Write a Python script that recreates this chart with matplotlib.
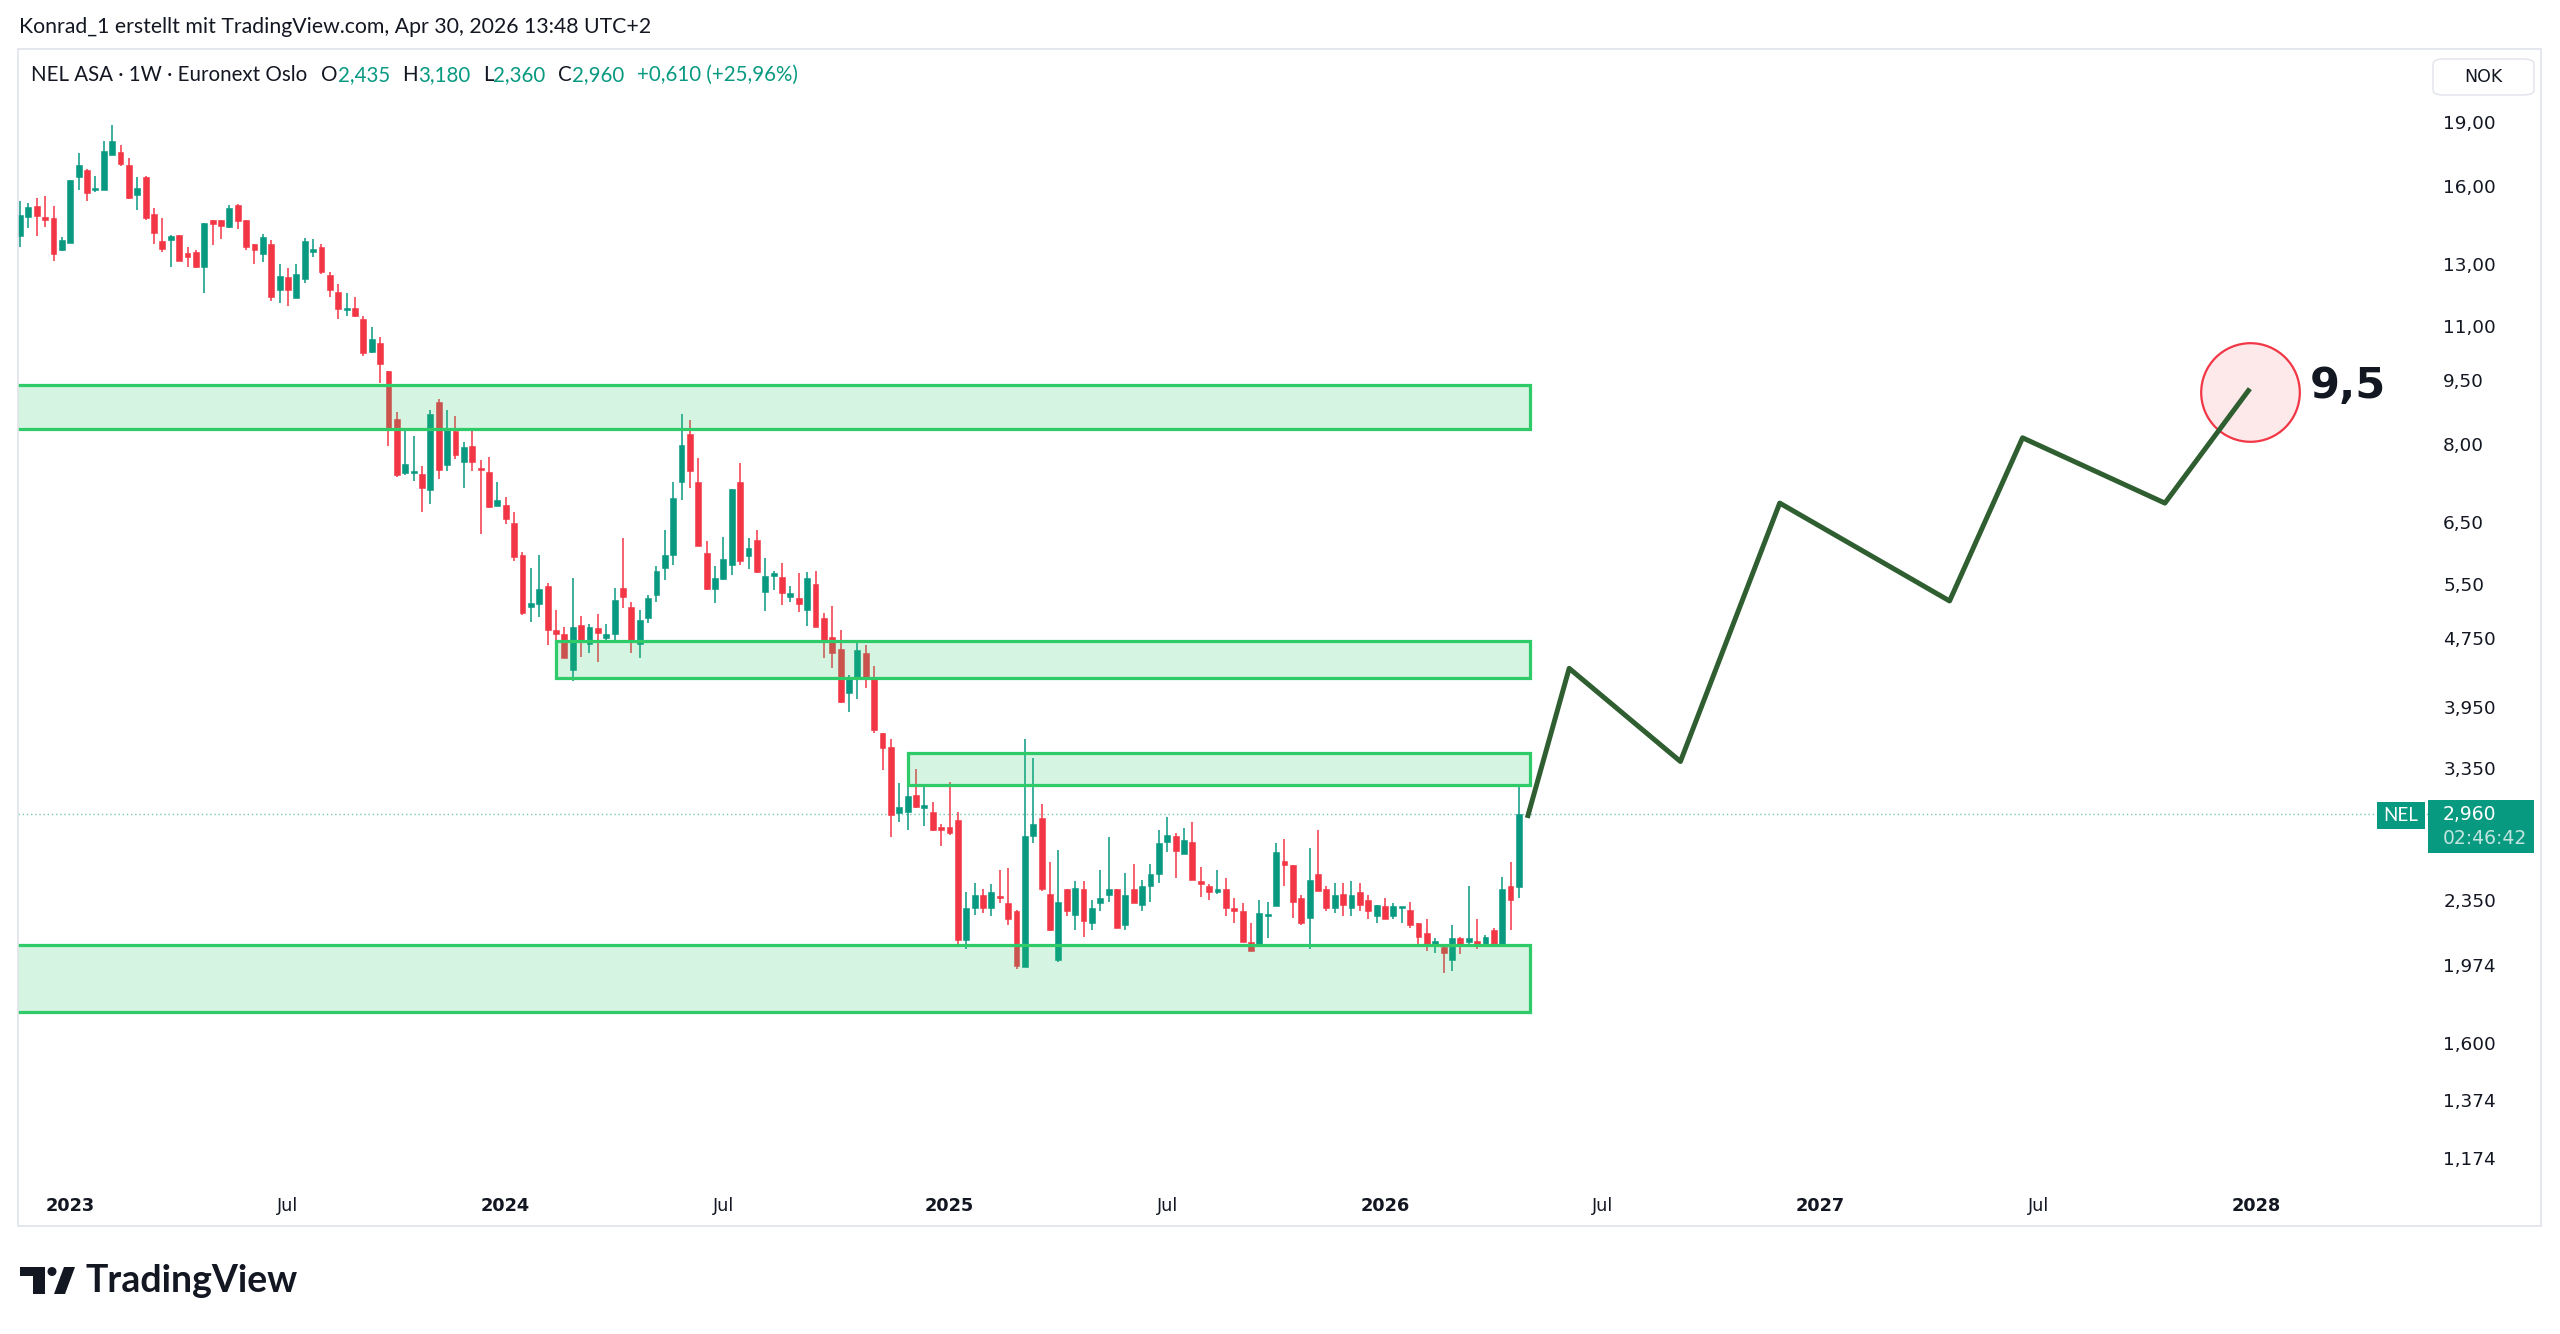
import matplotlib
matplotlib.use("Agg")
import matplotlib.pyplot as plt
import matplotlib.dates as mdates
import matplotlib.patches as mpatches
from matplotlib.ticker import NullLocator, NullFormatter
import pandas as pd

W, H = 2560, 1334

# Wochenkerzen NEL ASA (ab 21.11.2022)
START = "2022-11-21"
OPEN = [14.0, 14.72, 15.18, 14.73, 14.7, 13.5, 13.76, 16.4, 16.72, 15.85,
        15.86, 17.4, 17.53, 16.95, 15.65, 16.4, 14.87, 13.83, 13.84, 14.06,
        13.37, 13.4, 12.9, 14.6, 14.6, 14.33, 15.2, 14.6, 13.7, 13.35,
        13.7, 12.12, 12.55, 11.84, 12.47, 13.43, 13.6, 12.6, 12.05, 11.48,
        11.55, 11.2, 10.24, 10.5, 9.75, 8.56, 7.41, 7.40, 7.38, 7.07,
        8.97, 7.56, 8.29, 7.62, 7.96, 7.50, 7.43, 6.78, 6.79, 6.48,
        5.94, 5.16, 5.21, 5.47, 4.86, 4.80, 4.36, 4.92, 4.68, 4.88,
        4.75, 4.81, 5.43, 5.16, 4.68, 5.02, 5.34, 5.73, 5.94, 7.22,
        8.22, 7.23, 5.98, 5.42, 5.57, 5.78, 7.23, 5.93, 6.18, 5.38,
        5.61, 5.60, 5.31, 5.29, 5.13, 5.50, 5.02, 4.76, 4.61, 4.10,
        4.28, 4.56, 4.26, 3.68, 3.55, 2.97, 2.98, 3.12, 3.01, 2.98,
        2.86, 2.86, 2.91, 2.11, 2.30, 2.38, 2.30, 2.37, 2.33, 2.28,
        1.96, 2.79, 2.93, 2.39, 2.00, 2.42, 2.26, 2.42, 2.21, 2.33,
        2.38, 2.42, 2.20, 2.42, 2.32, 2.44, 2.52, 2.75, 2.79, 2.66,
        2.75, 2.47, 2.44, 2.40, 2.42, 2.30, 2.28, 2.10, 2.08, 2.25,
        2.31, 2.61, 2.58, 2.36, 2.24, 2.52, 2.42, 2.30, 2.39, 2.30,
        2.40, 2.35, 2.25, 2.31, 2.25, 2.30, 2.29, 2.21, 2.15, 2.09,
        2.07, 2.00, 2.12, 2.10, 2.10, 2.09, 2.17, 2.09, 2.44, 2.435]
HIGH = [15.4, 15.29, 15.5, 15.6, 15.17, 13.95, 16.29, 17.5, 16.75, 16.45,
        18.1, 18.87, 17.9, 17.25, 16.4, 16.45, 15.1, 14.7, 14.05, 14.06,
        13.6, 13.5, 14.5, 14.62, 14.62, 15.2, 15.26, 14.62, 13.72, 14.07,
        13.85, 13.0, 12.85, 13.0, 13.92, 13.9, 13.7, 12.7, 12.3, 12.0,
        11.9, 11.3, 10.96, 10.68, 9.75, 8.72, 8.34, 8.19, 7.55, 8.77,
        9.03, 8.77, 8.63, 8.05, 8.30, 7.67, 7.74, 7.22, 6.95, 6.66,
        5.99, 5.73, 5.94, 5.51, 5.12, 4.90, 5.58, 5.04, 4.94, 5.07,
        4.94, 5.43, 6.21, 5.24, 5.12, 5.34, 5.76, 6.35, 7.22, 8.68,
        8.54, 7.70, 6.17, 5.77, 6.24, 7.10, 7.61, 6.22, 6.36, 5.90,
        5.69, 5.81, 5.47, 5.66, 5.68, 5.69, 5.08, 5.18, 4.85, 4.30,
        4.72, 4.66, 4.41, 3.68, 3.62, 3.22, 3.18, 3.34, 3.19, 3.06,
        2.88, 3.23, 2.98, 2.40, 2.46, 2.42, 2.45, 2.55, 2.56, 2.29,
        3.62, 3.44, 3.04, 2.60, 2.69, 2.42, 2.47, 2.47, 2.35, 2.55,
        2.78, 2.42, 2.53, 2.59, 2.48, 2.59, 2.84, 2.94, 2.81, 2.85,
        2.90, 2.57, 2.45, 2.55, 2.49, 2.36, 2.33, 2.21, 2.35, 2.34,
        2.74, 2.77, 2.58, 2.38, 2.70, 2.84, 2.44, 2.46, 2.46, 2.47,
        2.46, 2.38, 2.32, 2.36, 2.33, 2.30, 2.34, 2.21, 2.23, 2.12,
        2.07, 2.20, 2.13, 2.44, 2.23, 2.14, 2.18, 2.50, 2.60, 3.18]
LOW = [13.6, 14.31, 14.0, 14.33, 13.1, 13.45, 13.74, 15.85, 15.4, 15.78,
       15.83, 17.4, 16.9, 15.45, 15.0, 14.62, 13.7, 13.42, 12.9, 13.1,
       12.9, 12.85, 12.0, 13.67, 13.9, 14.3, 14.28, 13.5, 13.0, 13.07,
       11.75, 11.7, 11.6, 11.84, 12.35, 13.25, 12.63, 11.9, 11.2, 11.3,
       11.25, 10.15, 10.22, 9.42, 7.97, 7.33, 7.37, 7.25, 6.67, 6.81,
       7.29, 7.45, 7.69, 7.11, 7.45, 6.29, 6.74, 6.77, 6.45, 5.85,
       5.06, 4.96, 5.03, 4.66, 4.73, 4.50, 4.23, 4.51, 4.57, 4.46,
       4.72, 4.72, 5.15, 4.56, 4.50, 4.95, 5.23, 5.56, 5.79, 6.89,
       7.11, 6.09, 5.41, 5.22, 5.56, 5.63, 5.79, 5.72, 5.66, 5.11,
       5.40, 5.19, 5.23, 5.09, 4.91, 4.90, 4.50, 4.39, 3.99, 3.90,
       4.03, 4.15, 3.68, 3.33, 2.78, 2.90, 2.84, 3.01, 2.87, 2.83,
       2.72, 2.80, 2.08, 2.06, 2.26, 2.27, 2.25, 2.33, 2.20, 1.95,
       1.96, 2.74, 2.41, 2.16, 1.99, 2.25, 2.17, 2.13, 2.17, 2.28,
       2.34, 2.18, 2.17, 2.33, 2.28, 2.34, 2.46, 2.67, 2.49, 2.66,
       2.48, 2.37, 2.35, 2.39, 2.25, 2.21, 2.10, 2.05, 2.07, 2.12,
       2.31, 2.44, 2.24, 2.20, 2.06, 2.41, 2.28, 2.27, 2.25, 2.25,
       2.28, 2.23, 2.21, 2.23, 2.23, 2.21, 2.18, 2.08, 2.05, 2.04,
       1.93, 1.94, 2.03, 2.08, 2.06, 2.08, 2.09, 2.07, 2.17, 2.36]
CLOSE = [14.8, 15.14, 14.77, 14.6, 13.35, 13.84, 16.26, 16.95, 15.7, 15.95,
         17.6, 18.06, 17.0, 15.5, 15.95, 14.7, 14.1, 13.52, 14.0, 13.1,
         13.25, 12.9, 14.5, 14.45, 14.4, 15.1, 14.57, 13.6, 13.5, 13.98,
         11.9, 12.58, 12.1, 12.65, 13.8, 13.46, 12.7, 12.1, 11.5, 11.52,
         11.3, 10.22, 10.63, 9.92, 8.36, 7.37, 7.59, 7.42, 7.11, 8.68,
         7.47, 8.31, 7.77, 7.94, 7.63, 7.47, 6.75, 6.88, 6.54, 5.91,
         5.08, 5.22, 5.42, 4.85, 4.81, 4.50, 4.90, 4.73, 4.90, 4.82,
         4.81, 5.27, 5.31, 4.73, 4.99, 5.29, 5.69, 5.94, 6.93, 7.99,
         7.45, 6.09, 5.42, 5.59, 5.88, 7.09, 5.84, 6.06, 5.68, 5.62,
         5.66, 5.37, 5.36, 5.21, 5.58, 4.90, 4.72, 4.57, 4.00, 4.27,
         4.60, 4.26, 3.71, 3.54, 2.95, 3.02, 3.11, 3.02, 3.03, 2.84,
         2.84, 2.81, 2.11, 2.30, 2.38, 2.30, 2.40, 2.36, 2.23, 1.97,
         2.79, 2.88, 2.42, 2.17, 2.34, 2.28, 2.43, 2.22, 2.30, 2.36,
         2.42, 2.18, 2.38, 2.33, 2.44, 2.52, 2.74, 2.80, 2.68, 2.76,
         2.48, 2.45, 2.40, 2.42, 2.30, 2.28, 2.10, 2.05, 2.27, 2.26,
         2.67, 2.58, 2.34, 2.21, 2.48, 2.41, 2.30, 2.38, 2.32, 2.38,
         2.32, 2.28, 2.32, 2.23, 2.31, 2.30, 2.20, 2.13, 2.08, 2.10,
         2.04, 2.12, 2.09, 2.12, 2.09, 2.13, 2.09, 2.42, 2.35, 2.96]

# Zonen (Rechtecke)
ZONE_START = ["2022-10-01", "2024-02-12", "2024-12-02", "2022-10-01"]
ZONE_END = ["2026-05-06", "2026-05-06", "2026-05-06", "2026-05-06"]
ZONE_LOW = [8.34, 4.27, 3.20, 1.74]
ZONE_HIGH = [9.38, 4.72, 3.49, 2.08]

# Prognose-Linie
PROJ_DATES = ["2026-05-04", "2026-06-08", "2026-09-09", "2026-12-01",
              "2027-04-22", "2027-06-22", "2027-10-19", "2027-12-29"]
PROJ_PRICES = [2.93, 4.38, 3.41, 6.83, 5.25, 8.14, 6.83, 9.29]
TARGET_DATE = "2027-12-29"
TARGET_PRICE = 9.2
TARGET_LABEL = "9,5"
TARGET_LABEL_DATE = "2028-02-17"
TARGET_LABEL_PRICE = 9.36

# Achsen
Y_TICKS = [19, 16, 13, 11, 9.5, 8, 6.5, 5.5, 4.75, 3.95, 3.35, 2.35, 1.974, 1.6, 1.374, 1.174]
Y_LABELS = ["19,00", "16,00", "13,00", "11,00", "9,50", "8,00", "6,50", "5,50", "4,750",
            "3,950", "3,350", "2,350", "1,974", "1,600", "1,374", "1,174"]
X_TICKS = ["2023-01-02", "2023-07-03", "2024-01-01", "2024-07-01", "2025-01-06", "2025-07-07",
           "2026-01-05", "2026-07-06", "2027-01-04", "2027-07-05", "2028-01-03"]
X_LABELS = ["2023", "Jul", "2024", "Jul", "2025", "Jul", "2026", "Jul", "2027", "Jul", "2028"]

UP = "#089981"
DOWN = "#F23645"
TXT = "#131722"
BORDER = "#E0E3EB"


def fx(x):
    return x / W


def fy(y):
    return 1 - y / H


fig = plt.figure(figsize=(W / 100, H / 100), dpi=100)
fig.patch.set_facecolor("white")

# Rahmen
fig.add_artist(mpatches.Rectangle((fx(18), fy(1226)), fx(2541) - fx(18), fy(49) - fy(1226),
                                  transform=fig.transFigure, fill=False,
                                  edgecolor=BORDER, linewidth=1.2))

ax = fig.add_axes([fx(18), fy(1180), fx(2430) - fx(18), fy(49) - fy(1180)])
ax.set_facecolor("none")
for s in ax.spines.values():
    s.set_visible(False)

x0 = mdates.date2num(pd.Timestamp(START))
dates = pd.date_range(START, periods=len(OPEN), freq="7D")
xs = mdates.date2num(dates)
cols = [UP if c >= o else DOWN for o, c in zip(OPEN, CLOSE)]

ax.set_yscale("log")
ax.set_ylim(1.107, 23.15)
ax.set_xlim(x0 - 1.7, x0 + 2014.6)

# Kerzen
ax.vlines(xs, LOW, HIGH, colors=cols, linewidth=1.1, zorder=2)
bottoms = [min(o, c) for o, c in zip(OPEN, CLOSE)]
heights = [max(abs(c - o), 0.006 * min(o, c)) for o, c in zip(OPEN, CLOSE)]
ax.bar(xs, heights, bottom=bottoms, width=4.9, color=cols, edgecolor=cols,
       linewidth=0.4, zorder=3)

# Zonen
for s, e, lo, hi in zip(ZONE_START, ZONE_END, ZONE_LOW, ZONE_HIGH):
    xa = mdates.date2num(pd.Timestamp(s))
    xb = mdates.date2num(pd.Timestamp(e))
    ax.add_patch(mpatches.Rectangle((xa, lo), xb - xa, hi - lo, facecolor="#2ECC71",
                                    alpha=0.2, edgecolor="none", zorder=4))
    ax.add_patch(mpatches.Rectangle((xa, lo), xb - xa, hi - lo, fill=False,
                                    edgecolor="#2FCB68", linewidth=2.3, zorder=4))

# aktuelle Kurslinie
ax.axhline(CLOSE[-1], color=UP, linewidth=1.0, linestyle=(0, (1, 2)), alpha=0.55, zorder=1)

# Prognose
pd_x = mdates.date2num(pd.to_datetime(PROJ_DATES))
ax.plot(mdates.date2num(pd.Timestamp(TARGET_DATE)), TARGET_PRICE, "o", markersize=71,
        markerfacecolor="#FDE8EA", markeredgecolor=DOWN, markeredgewidth=1.6, zorder=5)
ax.plot(pd_x, PROJ_PRICES, color="#2F5F30", linewidth=3.6, solid_capstyle="butt", zorder=6)
ax.text(mdates.date2num(pd.Timestamp(TARGET_LABEL_DATE)), TARGET_LABEL_PRICE, TARGET_LABEL,
        fontsize=31, fontweight="bold", color=TXT, ha="left", va="center", zorder=7)

# Y-Achse rechts
ax.yaxis.tick_right()
ax.set_yticks(Y_TICKS)
ax.set_yticklabels(Y_LABELS)
ax.yaxis.set_minor_locator(NullLocator())
ax.yaxis.set_minor_formatter(NullFormatter())
ax.tick_params(axis="y", length=0, pad=9.5, labelsize=13.3, labelcolor=TXT)

# X-Achse
ax.set_xticks(mdates.date2num(pd.to_datetime(X_TICKS)))
ax.set_xticklabels(X_LABELS)
ax.tick_params(axis="x", length=0, pad=12, labelsize=12.8, labelcolor=TXT)
for lab in ax.get_xticklabels():
    if lab.get_text() != "Jul":
        lab.set_fontweight("bold")

# Kopfzeilen
fig.text(fx(19), fy(27), "Konrad_1 erstellt mit TradingView.com, Apr 30, 2026 13:48 UTC+2",
         fontsize=15.3, family="Lato", color=TXT, va="center", ha="left")


def fmt(v, n=3):
    return f"{v:.{n}f}".replace(".", ",")


chg = CLOSE[-1] - CLOSE[-2]
pct = chg / CLOSE[-2] * 100
pieces = [("NEL ASA · 1W · Euronext Oslo", TXT, 0), ("O", TXT, 10), (fmt(OPEN[-1]), UP, 0),
          ("H", TXT, 9), (fmt(HIGH[-1]), UP, 0), ("L", TXT, 9), (fmt(LOW[-1]), UP, 0),
          ("C", TXT, 9), (fmt(CLOSE[-1]), UP, 0),
          (f"+{fmt(chg)} (+{fmt(pct, 2)}%)", UP, 9)]
prev = fig.text(fx(31), fy(75), pieces[0][0], fontsize=14.8, family="Lato",
                color=pieces[0][1], va="center", ha="left")
for s, c, gap in pieces[1:]:
    prev = ax.annotate(s, xy=(1, 0), xycoords=prev, xytext=(gap, 0),
                       textcoords="offset points", fontsize=14.8, family="Lato",
                       color=c, va="bottom", ha="left", annotation_clip=False)

# NOK-Box
fig.add_artist(mpatches.FancyBboxPatch((fx(2433), fy(95)), fx(2534) - fx(2433), fy(59) - fy(95),
                                       boxstyle="round,pad=0,rounding_size=0.004",
                                       transform=fig.transFigure, facecolor="white",
                                       edgecolor=BORDER, linewidth=1.0))
fig.text(fx(2483), fy(77), "NOK", fontsize=12.5, color=TXT, ha="center", va="center")

# Preis-Label
fig.add_artist(mpatches.Rectangle((fx(2377), fy(829)), fx(2425) - fx(2377), fy(802) - fy(829),
                                  transform=fig.transFigure, facecolor=UP, edgecolor="none"))
fig.text(fx(2401), fy(815.5), "NEL", fontsize=13.5, color="white", ha="center", va="center",
         family="Lato")
fig.add_artist(mpatches.Rectangle((fx(2428), fy(853)), fx(2534) - fx(2428), fy(800) - fy(853),
                                  transform=fig.transFigure, facecolor=UP, edgecolor="none"))
fig.text(fx(2443), fy(814), fmt(CLOSE[-1]), fontsize=13.5, color="white", ha="left", va="center")
fig.text(fx(2443), fy(839), "02:46:42", fontsize=13.5, color="white", alpha=0.75,
         ha="left", va="center")

# TradingView-Logo
fig.add_artist(mpatches.Polygon([(fx(20), fy(1267)), (fx(45), fy(1267)), (fx(45), fy(1294)),
                                 (fx(33), fy(1294)), (fx(33), fy(1276)), (fx(20), fy(1276))],
                                closed=True, transform=fig.transFigure, facecolor="#131722"))
fig.add_artist(mpatches.Ellipse((fx(52), fy(1271.5)), 9 / W, 9 / H,
                                transform=fig.transFigure, facecolor="#131722"))
fig.add_artist(mpatches.Polygon([(fx(54), fy(1294)), (fx(65), fy(1294)), (fx(75), fy(1267)),
                                 (fx(64), fy(1267))],
                                closed=True, transform=fig.transFigure, facecolor="#131722"))
fig.text(fx(85), fy(1281), "TradingView", fontsize=27, fontweight="bold", family="Lato",
         color="#131722", ha="left", va="center")

fig.savefig("out.png", dpi=100, facecolor="white")
